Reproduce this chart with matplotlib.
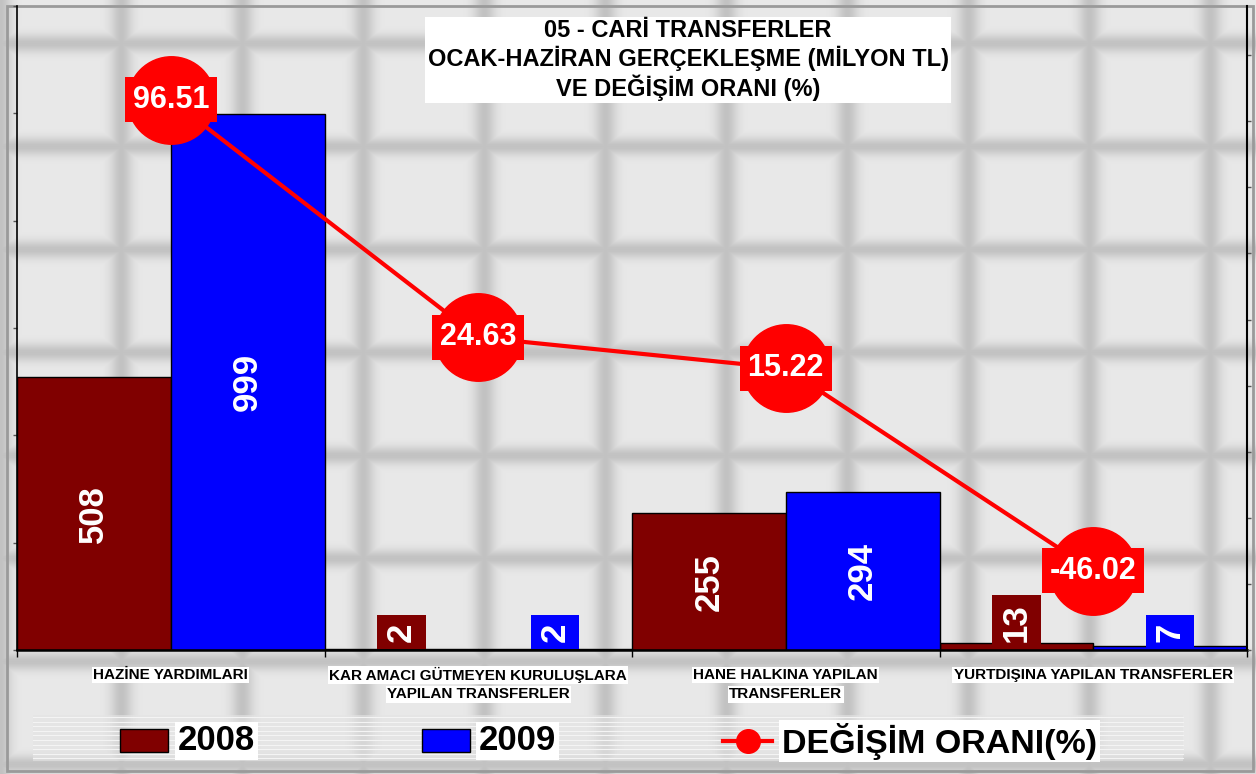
import numpy as np
import matplotlib
matplotlib.use("Agg")
import matplotlib.pyplot as plt
from matplotlib.patches import Rectangle
from matplotlib.lines import Line2D

plt.rcParams['font.family'] = ['Liberation Sans', 'DejaVu Sans']

# --- dane ---
kategorie = ["HAZİNE YARDIMLARI",
             "KAR AMACI GÜTMEYEN KURULUŞLARA\nYAPILAN TRANSFERLER",
             "HANE HALKINA YAPILAN\nTRANSFERLER",
             "YURTDIŞINA YAPILAN TRANSFERLER"]
seria_2008 = [508, 2, 255, 13]
seria_2009 = [999, 2, 294, 7]
degisim = [96.51, 24.63, 15.22, -46.02]
nazwy_serii = ["2008", "2009", "DEĞİŞİM ORANI(%)"]
tytul = "05 - CARİ TRANSFERLER\nOCAK-HAZİRAN GERÇEKLEŞME (MİLYON TL)\nVE DEĞİŞİM ORANI (%)"

kolor_2008 = "#800000"
kolor_2009 = "#0000FF"
kolor_linii = "#FF0000"

W, H = 1256, 774
fig = plt.figure(figsize=(W / 100, H / 100), dpi=100)

# --- tło: szare "kafelki" ---
bg = fig.add_axes([0, 0, 1, 1], zorder=-10)
xx = np.arange(W)
yy = np.arange(H)
dx = np.abs(((xx + 60.5) % 121) - 60.5)
dy = np.abs(((yy - 43 + 51.5) % 103) - 51.5)
bx = np.exp(-(dx / 11.0) ** 2)
by = np.exp(-(dy / 9.0) ** 2)
shade = np.maximum(bx[None, :], by[:, None])
img = 0.91 - 0.15 * shade
bg.imshow(img, cmap="gray", vmin=0, vmax=1, aspect="auto", interpolation="bilinear")
bg.set_axis_off()
bg.add_patch(Rectangle((6, 5), W - 10, H - 9, fill=False, edgecolor="#9a9a9a", lw=2))

# --- osie ---
x0, x1, ytop, ybot = 17, 1247, 6, 650
ax = fig.add_axes([x0 / W, (H - ybot) / H, (x1 - x0) / W, (ybot - ytop) / H])
ax.patch.set_visible(False)

x = np.arange(len(kategorie))
szer = 0.5
ax.bar(x - szer / 2, seria_2008, width=szer, color=kolor_2008, edgecolor="black", lw=1, zorder=2)
ax.bar(x + szer / 2, seria_2009, width=szer, color=kolor_2009, edgecolor="black", lw=1, zorder=2)
ax.set_xlim(-0.5, len(kategorie) - 0.5)
ax.set_ylim(0, 1200)

for seria, kolor, przes in [(seria_2008, kolor_2008, -szer / 2), (seria_2009, kolor_2009, szer / 2)]:
    for xi, v in zip(x, seria):
        box = dict(boxstyle="square,pad=0.22", fc=kolor, ec="none")
        if v < 100:
            ax.annotate(str(v), (xi + przes, 0), xytext=(0, 6), textcoords="offset points",
                        rotation=90, ha="center", va="bottom", color="white",
                        fontsize=25, fontweight="bold", bbox=box, zorder=3)
        else:
            ax.text(xi + przes, v / 2, str(v), rotation=90, ha="center", va="center",
                    color="white", fontsize=25, fontweight="bold", bbox=box, zorder=3)

for s in ["top", "right"]:
    ax.spines[s].set_visible(False)
ax.spines["left"].set_linewidth(1.2)
ax.spines["bottom"].set_linewidth(1.8)
ax.set_yticks(np.arange(0, 1201, 200))
ax.set_yticklabels([])
ax.tick_params(axis="y", direction="out", length=3, width=1, color="#555555")
ax.set_xticks(np.arange(-0.5, len(kategorie), 1.0))
ax.set_xticklabels([])
ax.tick_params(axis="x", direction="out", length=5, width=1)

# etykiety kategorii (każda linia z białym tłem)
for xi, nazwa in zip(x, kategorie):
    for j, linia in enumerate(nazwa.split("\n")):
        ax.text(xi, -0.039 - j * 0.030, linia, transform=ax.get_xaxis_transform(),
                ha="center", va="center", fontsize=11, fontweight="bold",
                bbox=dict(boxstyle="square,pad=0.08", fc="white", ec="none"))

# --- oś pomocnicza: zmiana % ---
ax2 = ax.twinx()
ax2.plot(x, degisim, color=kolor_linii, lw=3, marker="o", markersize=63,
         markerfacecolor=kolor_linii, markeredgecolor=kolor_linii, zorder=4)
ax2.set_ylim(-69.6, 124.9)
for xi, v in zip(x, degisim):
    ax2.text(xi, v, f"{v:.2f}", ha="center", va="center", color="white", fontsize=22,
             fontweight="bold", bbox=dict(boxstyle="square,pad=0.25", fc=kolor_linii, ec="none"),
             zorder=5)
for s in ["top", "left", "bottom"]:
    ax2.spines[s].set_visible(False)
ax2.spines["right"].set_linewidth(1.5)
ax2.set_yticks(np.arange(-70, 125, 20))
ax2.set_yticklabels([])
ax2.tick_params(axis="y", direction="out", length=3, width=1, color="#555555")

# --- tytuł ---
fig.text(688 / W, 1 - 60 / H, tytul, ha="center", va="center", fontsize=17,
         fontweight="bold", linespacing=1.15,
         bbox=dict(boxstyle="square,pad=0.1", fc="white", ec="none"))

# --- legenda (ręcznie) ---
leg = fig.add_axes([0, 0, 1, 1], zorder=5)
leg.set_xlim(0, W)
leg.set_ylim(H, 0)
leg.set_axis_off()
leg.add_patch(Rectangle((33, 715), 1150, 46, fc="#e4e4e4", ec="none", alpha=0.6, zorder=0.5))
for yl in np.arange(717, 761, 4.6):
    leg.plot([33, 1183], [yl, yl], color="#f4f4f4", lw=0.8, zorder=0.6)
yc = 741
leg.add_patch(Rectangle((120, 729), 48, 23, fc=kolor_2008, ec="black", lw=1, zorder=2))
leg.add_patch(Rectangle((422, 729), 48, 23, fc=kolor_2009, ec="black", lw=1, zorder=2))
leg.add_line(Line2D([723, 772], [yc, yc], color=kolor_linii, lw=3, zorder=2))
leg.plot([748], [yc], marker="o", markersize=17, color=kolor_linii, zorder=3)
tbox = dict(boxstyle="square,pad=0.08", fc="white", ec="none")
leg.text(178, yc, nazwy_serii[0], ha="left", va="center", fontsize=25, fontweight="bold", bbox=tbox, zorder=3)
leg.text(479, yc, nazwy_serii[1], ha="left", va="center", fontsize=25, fontweight="bold", bbox=tbox, zorder=3)
leg.text(782, yc, nazwy_serii[2], ha="left", va="center", fontsize=24.5, fontweight="bold", bbox=tbox, zorder=3)

fig.savefig("out.png", dpi=100)
